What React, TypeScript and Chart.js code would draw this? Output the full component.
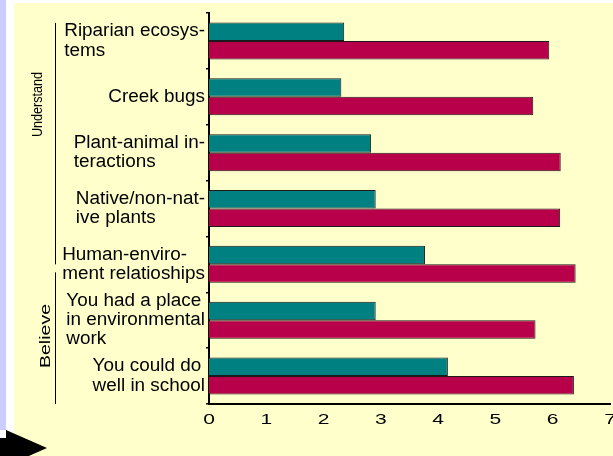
import React, { useEffect, useRef } from "react";
import { Chart, registerables } from "chart.js";

Chart.register(...registerables);

const categories: string[][] = [
  ["Riparian ecosys-", "tems"],
  ["Creek bugs"],
  ["Plant-animal in-", "teractions"],
  ["Native/non-nat-", "ive plants"],
  ["Human-enviro-", "ment relatioships"],
  ["You had a place", "in environmental", "work"],
  ["You could do", "well in school"],
];
const seriesTeal: number[] = [2.36, 2.31, 2.83, 2.91, 3.77, 2.91, 4.17];
const seriesRed: number[] = [5.94, 5.66, 6.14, 6.13, 6.4, 5.7, 6.37];
const xTickValues: number[] = [0, 1, 2, 3, 4, 5, 6, 7];
const groupLabels: string[] = ["Understand", "Believe"];

const FONT = "'Liberation Sans', Arial, sans-serif";

const decorPlugin = {
  id: "decor",
  beforeDraw(chart: any) {
    const ctx = chart.ctx as CanvasRenderingContext2D;
    const W = chart.width;
    const H = chart.height;
    ctx.save();
    ctx.fillStyle = "#ffffff";
    ctx.fillRect(0, 0, W, H);
    ctx.fillStyle = "#ccccff";
    ctx.fillRect(0, 0, 6, 430);
    ctx.fillStyle = "#ffffcc";
    ctx.fillRect(14, 3, W - 14, H - 3);
    ctx.restore();
  },
  afterDraw(chart: any) {
    const ctx = chart.ctx as CanvasRenderingContext2D;
    const y = chart.scales.y;
    const x = chart.scales.x;
    const area = chart.chartArea;
    ctx.save();
    ctx.fillStyle = "#000";
    // category labels
    ctx.font = `18px ${FONT}`;
    ctx.textBaseline = "middle";
    ctx.textAlign = "left";
    const sx = 1.05;
    const lh = 19.3;
    categories.forEach((lines, i) => {
      const cy = y.getPixelForValue(i);
      const maxW = Math.max(...lines.map((l) => ctx.measureText(l).width)) * sx;
      const x0 = area.left - 4 - maxW;
      lines.forEach((l, j) => {
        const ly = cy + (j - (lines.length - 1) / 2) * lh;
        ctx.save();
        ctx.translate(x0, ly);
        ctx.scale(sx, 1);
        ctx.fillText(l, 0, 0);
        ctx.restore();
      });
    });
    // x tick labels
    ctx.font = `15px ${FONT}`;
    ctx.textAlign = "center";
    xTickValues.forEach((v) => {
      const px = x.getPixelForValue(v);
      ctx.save();
      ctx.translate(px, 419.5);
      ctx.scale(1.4, 1);
      ctx.fillText(String(v), 0, 0);
      ctx.restore();
    });
    // group brackets
    ctx.strokeStyle = "#000";
    ctx.lineWidth = 1;
    const u0 = y.getPixelForValue(0) - 18;
    const u1 = y.getPixelForValue(4);
    const b0 = y.getPixelForValue(4) + 8;
    const b1 = area.bottom;
    ctx.beginPath();
    ctx.moveTo(55.5, u0);
    ctx.lineTo(55.5, u1);
    ctx.moveTo(55.5, b0);
    ctx.lineTo(55.5, b1);
    ctx.stroke();
    // group labels
    ctx.textAlign = "center";
    ctx.textBaseline = "middle";
    ctx.save();
    ctx.translate(38, 104.5);
    ctx.rotate(-Math.PI / 2);
    ctx.font = `14px ${FONT}`;
    ctx.scale(0.9, 1);
    ctx.fillText(groupLabels[0], 0, 0);
    ctx.restore();
    ctx.save();
    ctx.translate(45.5, 336);
    ctx.rotate(-Math.PI / 2);
    ctx.font = `15px ${FONT}`;
    ctx.scale(1.3, 1);
    ctx.fillText(groupLabels[1], 0, 0);
    ctx.restore();
    // arrow
    ctx.fillStyle = "#000";
    ctx.beginPath();
    ctx.moveTo(0, 438);
    ctx.lineTo(6, 438);
    ctx.lineTo(6, 430);
    ctx.lineTo(47, 448);
    ctx.lineTo(6, 466);
    ctx.lineTo(6, 458);
    ctx.lineTo(0, 458);
    ctx.closePath();
    ctx.fill();
    ctx.restore();
  },
};

export default function App() {
  const ref = useRef<HTMLCanvasElement | null>(null);
  useEffect(() => {
    document.body.style.margin = "0";
    const canvas = ref.current!;
    const chart = new Chart(canvas, {
      type: "bar",
      data: {
        labels: categories.map((c) => c.join(" ")),
        datasets: [
          {
            label: "Teal",
            data: seriesTeal,
            backgroundColor: "#008080",
            borderColor: "#1a1a1a",
            borderWidth: 1,
          },
          {
            label: "Red",
            data: seriesRed,
            backgroundColor: "#b8004a",
            borderColor: "#1a1a1a",
            borderWidth: 1,
          },
        ],
      },
      options: {
        indexAxis: "y",
        responsive: false,
        animation: false,
        devicePixelRatio: 1,
        layout: { padding: { left: 209, top: 13, right: 3, bottom: 52 } },
        plugins: { legend: { display: false }, tooltip: { enabled: false } },
        datasets: { bar: { categoryPercentage: 0.662, barPercentage: 1 } },
        scales: {
          x: {
            type: "linear",
            min: 0,
            max: 7,
            ticks: { display: false, stepSize: 1 },
            grid: { display: false, drawTicks: false },
            border: { display: true, color: "#000", width: 2 },
            afterFit: (s: any) => {
              s.height = 0;
            },
          },
          y: {
            type: "category",
            ticks: { display: false },
            grid: {
              display: true,
              offset: true,
              drawOnChartArea: false,
              drawTicks: true,
              tickLength: 3,
              color: "#000",
              lineWidth: 1.5,
            },
            border: { display: true, color: "#000", width: 2 },
            afterFit: (s: any) => {
              s.width = 0;
            },
          },
        },
      } as any,
      plugins: [decorPlugin],
    });
    return () => chart.destroy();
  }, []);
  return (
    <canvas
      ref={ref}
      width={613}
      height={456}
      style={{ position: "absolute", left: 0, top: 0, display: "block" }}
    />
  );
}
